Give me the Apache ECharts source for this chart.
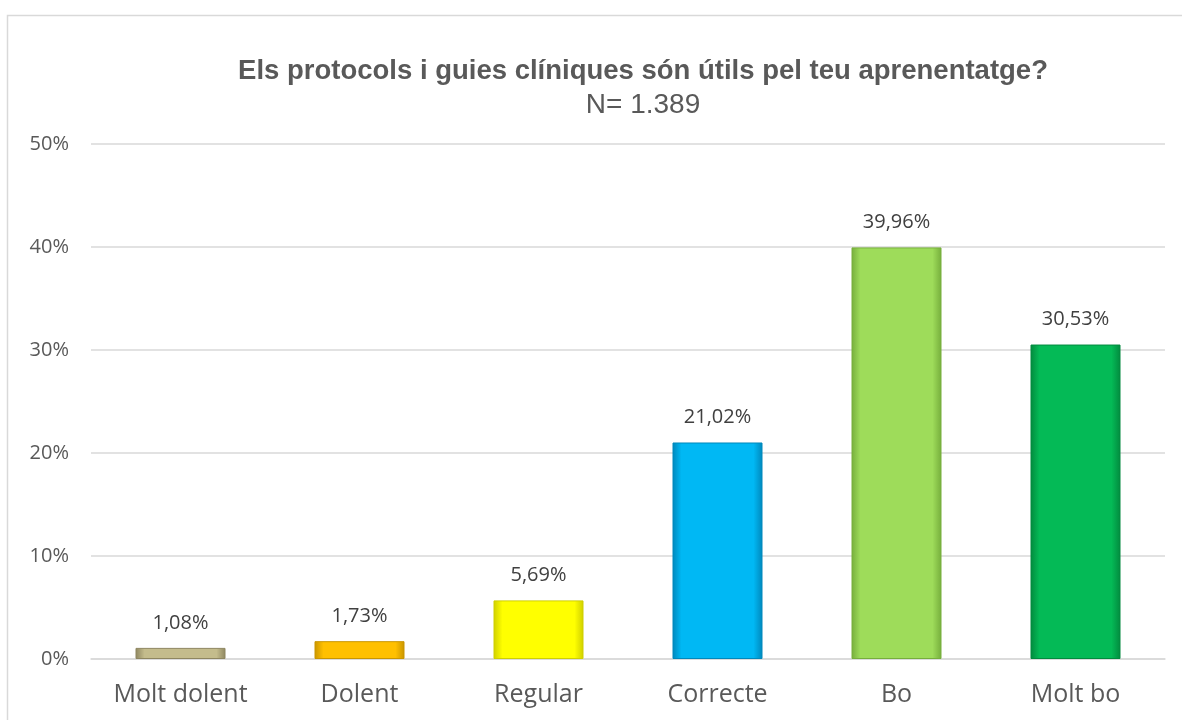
<!DOCTYPE html>
<html><head><meta charset="utf-8">
<script src="https://cdn.jsdelivr.net/npm/echarts@6/dist/echarts.min.js"></script>
<style>html,body{margin:0;padding:0;background:#fff}#c{width:1182px;height:720px}</style>
</head><body><div id="c"></div>
<script>
const categories = ['Molt dolent', 'Dolent', 'Regular', 'Correcte', 'Bo', 'Molt bo'];
const values = [1.08, 1.73, 5.69, 21.02, 39.96, 30.53];
const barColors = ['#C4BC8C', '#FFC000', '#FFFF00', '#00B8F4', '#9EDC5A', '#04BA56'];
const edgeColors = ['#8E8660', '#C99500', '#CFCF00', '#0088BC', '#76AE3C', '#028A3E'];
const titleText = 'Els protocols i guies clíniques són útils pel teu aprenentatge?';
const subText = 'N= 1.389';

const chart = echarts.init(document.getElementById('c'));
const data = values.map((v, i) => ({
  value: v,
  itemStyle: {
    color: new echarts.graphic.LinearGradient(0, 0, 1, 0, [
      {offset: 0, color: edgeColors[i]},
      {offset: 0.1, color: barColors[i]},
      {offset: 0.9, color: barColors[i]},
      {offset: 1, color: edgeColors[i]}
    ]),
    borderColor: edgeColors[i],
    borderWidth: 1
  }
}));
chart.setOption({
  backgroundColor: '#fff',
  animation: false,
  graphic: [{
    type: 'rect', left: 5, top: 13,
    shape: {width: 1200, height: 720},
    style: {fill: 'none', stroke: '#D9D9D9', lineWidth: 1.5}, silent: true
  }],
  title: {
    text: titleText, subtext: subText,
    left: 638, textAlign: 'center', top: 52, itemGap: 6,
    textStyle: {fontFamily: 'Liberation Sans, sans-serif', fontWeight: 'bold', fontSize: 27.5, color: '#595959'},
    subtextStyle: {fontFamily: 'Liberation Sans, sans-serif', fontSize: 28, color: '#595959'}
  },
  grid: {left: 91, right: 17, top: 144, bottom: 61, containLabel: false},
  xAxis: {
    type: 'category', data: categories,
    axisLine: {lineStyle: {color: '#D9D9D9', width: 1.5}},
    axisTick: {show: false},
    axisLabel: {fontFamily: 'Open Sans, sans-serif', fontSize: 25, color: '#595959', margin: 23}
  },
  yAxis: {
    type: 'value', min: 0, max: 50, interval: 10,
    axisLine: {show: false}, axisTick: {show: false},
    splitLine: {lineStyle: {color: '#D9D9D9', width: 1.5}},
    axisLabel: {formatter: '{value}%', fontFamily: 'Open Sans, sans-serif', fontSize: 20, color: '#595959', margin: 22}
  },
  series: [{
    type: 'bar', data: data, barWidth: 90,
    label: {
      show: true, position: 'top', distance: 15,
      fontFamily: 'Open Sans, sans-serif', fontSize: 20, color: '#404040',
      formatter: p => p.value.toFixed(2).replace('.', ',') + '%'
    }
  }]
});
</script></body></html>
